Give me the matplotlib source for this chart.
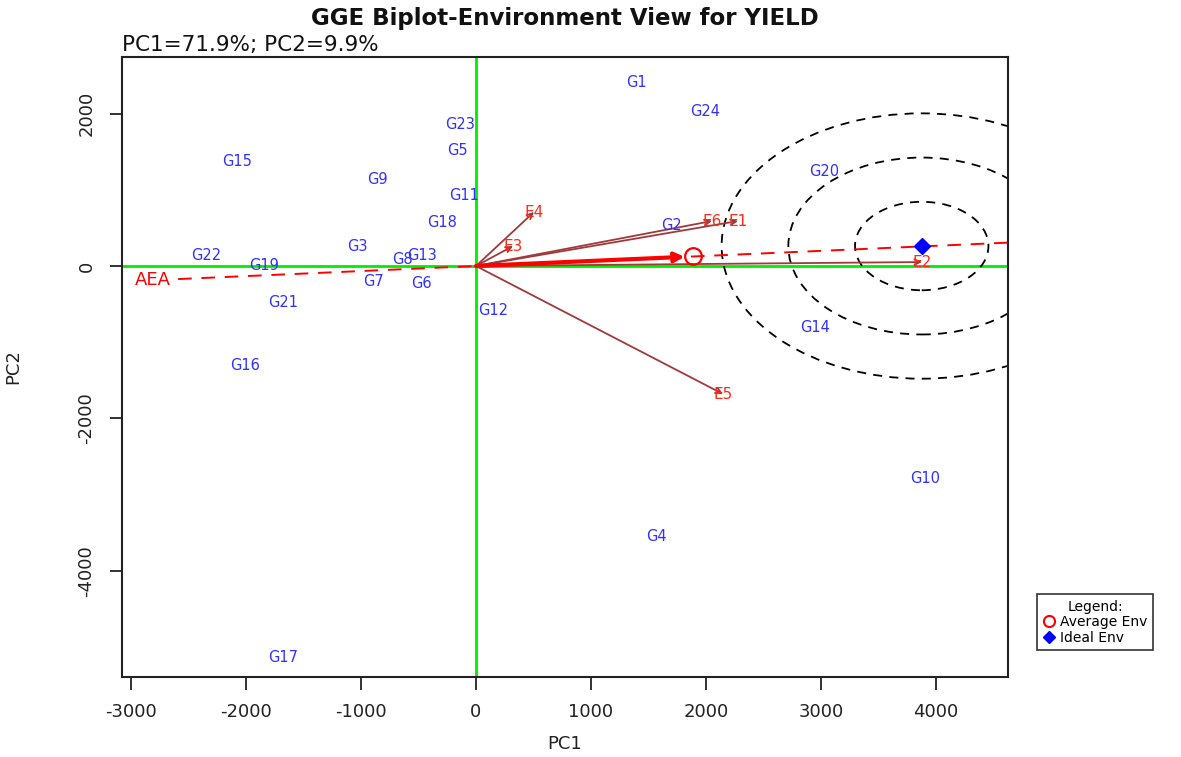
import numpy as np
import matplotlib
matplotlib.use("Agg")
import matplotlib.pyplot as plt
from matplotlib.patches import Circle
from matplotlib.lines import Line2D

plt.rcParams['font.family'] = ['DejaVu Sans']
plt.rcParams['axes.unicode_minus'] = False

# genotype scores
gen_names = ['G1', 'G2', 'G3', 'G4', 'G5', 'G6', 'G7', 'G8', 'G9', 'G10', 'G11', 'G12',
             'G13', 'G14', 'G15', 'G16', 'G17', 'G18', 'G19', 'G20', 'G21', 'G22', 'G23', 'G24']
gen_pc1 = [1391, 1704, -1035, 1565, -157, -470, -887, -643, -861, 3904, -104, 148,
           -470, 2948, -2078, -2009, -1678, -296, -1843, 3026, -1678, -2348, -139, 1991]
gen_pc2 = [2413, 525, 262, -3554, 1521, -223, -197, 79, 1128, -2793, 931, -590,
           144, -800, 1377, -1311, -5128, 564, 13, 1233, -485, 144, 1862, 2020]

# environment vectors
env_names = ['E1', 'E2', 'E3', 'E4', 'E5', 'E6']
env_pc1 = [2278, 3878, 322, 504, 2148, 2052]
env_pc2 = [590, 52, 262, 708, -1679, 590]

avg_env = (1887, 125)
ideal_env = (3876, 262)
circle_radii = [580, 1160, 1740]
aea_left_x = -2590

xlim = (-3078, 4626)
ylim = (-5390, 2741)

fig = plt.figure(figsize=(11.81, 7.57), dpi=100)
ax = fig.add_axes([0.1033, 0.1057, 0.7502, 0.819])
ax.set_xlim(*xlim)
ax.set_ylim(*ylim)

# axes through origin
ax.axhline(0, color='#00ee00', lw=2, zorder=1)
ax.axvline(0, color='#00ee00', lw=2, zorder=1)

# concentric circles round the ideal environment
for r in circle_radii:
    ax.add_patch(Circle(ideal_env, r, fill=False, ec='black', lw=1.3,
                        ls=(0, (5, 4)), zorder=2))

# average environment axis
slope = avg_env[1] / avg_env[0]
ax.plot([aea_left_x, xlim[1]], [slope * aea_left_x, slope * xlim[1]],
        color='red', lw=1.4, ls=(0, (7, 5)), zorder=3)
ax.text(-2810, slope * -2810, 'AEA', color='red', fontsize=13,
        ha='center', va='center', zorder=5)

# environment arrows
for name, x, y in zip(env_names, env_pc1, env_pc2):
    ax.annotate('', xy=(x, y), xytext=(0, 0),
                arrowprops=dict(arrowstyle='->', color='#a0393a', lw=1.3,
                                mutation_scale=10, shrinkA=0, shrinkB=0), zorder=3)
    ax.text(x, y, name, color='#ff2a1a', fontsize=11, ha='center', va='center', zorder=5)

# average environment arrow and marker
ax.annotate('', xy=avg_env, xytext=(0, 0),
            arrowprops=dict(arrowstyle='-|>', color='red', lw=3,
                            mutation_scale=14, shrinkA=0, shrinkB=6), zorder=4)
ax.plot(avg_env[0], avg_env[1], 'o', mfc='none', mec='red', ms=12, mew=1.6, zorder=5)
ax.plot(ideal_env[0], ideal_env[1], 'D', color='blue', ms=8, zorder=5)

# genotype labels
for name, x, y in zip(gen_names, gen_pc1, gen_pc2):
    ax.text(x, y, name, color='#3030ff', fontsize=10.5, ha='center', va='center', zorder=6)

ax.set_xticks([-3000, -2000, -1000, 0, 1000, 2000, 3000, 4000])
ax.set_yticks([-4000, -2000, 0, 2000])
ax.tick_params(axis='both', direction='out', length=9, width=1.3, labelsize=13,
               color='#222222', labelcolor='#222222')
ax.tick_params(axis='x', pad=10)
ax.tick_params(axis='y', pad=10)
for lab in ax.get_yticklabels():
    lab.set_rotation(90)
    lab.set_va('center')
for sp in ax.spines.values():
    sp.set_linewidth(1.5)
    sp.set_color('#222222')

ax.set_xlabel('PC1', fontsize=13, color='#222222')
ax.set_ylabel('PC2', fontsize=13, color='#222222')
ax.xaxis.set_label_coords(0.5, -0.094)
ax.yaxis.set_label_coords(-0.113, 0.5)

fig.text(0.478, 0.976, 'GGE Biplot-Environment View for YIELD', fontsize=16.5,
         fontweight='bold', ha='center', va='center', color='#111111')
ax.text(0.0, 1.004, 'PC1=71.9%; PC2=9.9%', transform=ax.transAxes, fontsize=15.5,
        ha='left', va='bottom', color='#111111')

handles = [Line2D([], [], marker='o', ls='none', mfc='none', mec='red', ms=8, mew=1.5),
           Line2D([], [], marker='D', ls='none', color='blue', ms=6)]
leg = fig.legend(handles, ['Average Env', 'Ideal Env'], title='Legend:',
                 loc='lower left', bbox_to_anchor=(0.872, 0.132), fontsize=10,
                 title_fontsize=10, frameon=True, fancybox=False, edgecolor='black',
                 handletextpad=0.3, handlelength=1.0, borderpad=0.4, labelspacing=0.1)
leg.get_frame().set_linewidth(1.2)

fig.savefig('out.png', dpi=100)
